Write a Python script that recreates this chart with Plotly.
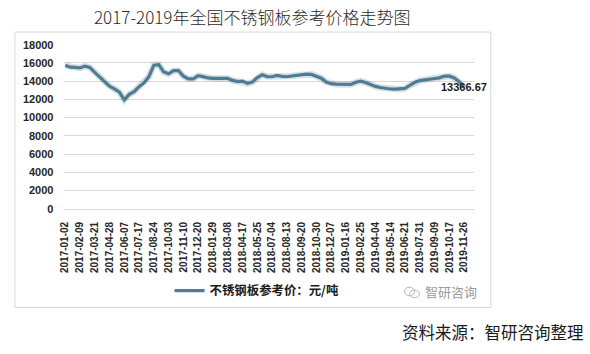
import plotly.graph_objects as go

title_text = "2017-2019年全国不锈钢板参考价格走势图"
series_name = "不锈钢板参考价：元/吨"
source_text = "资料来源：智研咨询整理"
watermark_text = "智研咨询"

tick_labels = [
    "2017-01-02", "2017-02-09", "2017-03-21", "2017-04-28", "2017-06-07",
    "2017-07-17", "2017-08-24", "2017-10-03", "2017-11-10", "2017-12-20",
    "2018-01-29", "2018-03-08", "2018-04-17", "2018-05-25", "2018-07-04",
    "2018-08-13", "2018-09-20", "2018-10-30", "2018-12-07", "2019-01-16",
    "2019-02-25", "2019-04-04", "2019-05-14", "2019-06-21", "2019-07-31",
    "2019-09-09", "2019-10-17", "2019-11-26",
]

# price samples (3 samples per labelled interval)
prices = [
    15750, 15530, 15500, 15450, 15650, 15500, 14950, 14450, 13900, 13450,
    13150, 12800, 11950, 12550, 12850, 13400, 13800, 14500, 15750, 15800,
    15000, 14800, 15150, 15150, 14550, 14250, 14250, 14600, 14500, 14350,
    14300, 14300, 14380, 14300, 14080, 13950, 14000, 13750, 13900, 14400,
    14700, 14500, 14480, 14620, 14520, 14480, 14560, 14640, 14720, 14760,
    14740, 14560, 14330, 13900, 13720, 13670, 13640, 13590, 13640, 13880,
    14000, 13850, 13600, 13420, 13300, 13190, 13140, 13130, 13130, 13200,
    13550, 13870, 14060, 14160, 14250, 14290, 14360, 14560, 14550, 14350,
    13950, 13366.67,
]

y_ticks = list(range(0, 18001, 2000))
y_tick_text = [str(v) for v in y_ticks]

W, H = 590, 354
x_idx = list(range(len(prices)))
tickvals = x_idx[::3]

line_color = "#4C7D97"
grid_color = "#D9D9D9"
label_font = "Liberation Sans, Arial, sans-serif"
cjk_font = "Noto Sans CJK SC, sans-serif"

x_range = [-0.14, 83.0]
y_range = [0, 18000]
x_dom = [60 / W, 473 / W]
y_dom = [(H - 210) / H, (H - 40) / H]

fig = go.Figure()

# soft glow / shadow around the line
fig.add_trace(go.Scatter(
    x=x_idx, y=prices, mode="lines",
    line=dict(color="rgba(95,110,120,0.22)", width=6.5),
    hoverinfo="skip", showlegend=False,
))
# main line
fig.add_trace(go.Scatter(
    x=x_idx, y=prices, mode="lines",
    name=series_name, line=dict(color=line_color, width=3.2),
    showlegend=True,
))

fig.update_layout(
    width=W, height=H,
    margin=dict(l=0, r=0, t=0, b=0),
    paper_bgcolor="white", plot_bgcolor="white",
    xaxis=dict(
        domain=x_dom, range=x_range, tickmode="array",
        tickvals=tickvals, ticktext=tick_labels, tickangle=-90,
        tickfont=dict(family=label_font, size=10, color="#262626", weight="bold"),
        showgrid=False, zeroline=False, showline=True, linecolor=grid_color,
        ticks="", ticklabelstandoff=8,
    ),
    yaxis=dict(
        domain=y_dom, range=y_range, tickmode="array",
        tickvals=y_ticks, ticktext=y_tick_text,
        tickfont=dict(family=label_font, size=11, color="#262626", weight="bold"),
        showgrid=True, gridcolor=grid_color, gridwidth=1,
        zeroline=False, showline=False, ticks="", ticklabelstandoff=10,
    ),
    legend=dict(
        x=166 / W, y=(H - 295) / H, xanchor="left", yanchor="middle",
        bgcolor="rgba(0,0,0,0)", borderwidth=0,
        font=dict(family=cjk_font, size=12.4, color="#1a1a1a", weight="bold"),
        itemwidth=30,
    ),
    showlegend=True,
)

# outer chart frame
fig.add_shape(type="rect", xref="paper", yref="paper",
              x0=10 / W, x1=490 / W, y0=(H - 312) / H, y1=(H - 27) / H,
              line=dict(color=grid_color, width=1), fillcolor="rgba(0,0,0,0)",
              layer="below")

# watermark icon (two small bubbles)
fig.add_shape(type="circle", xref="paper", yref="paper",
              x0=403 / W, x1=413 / W, y0=(H - 300) / H, y1=(H - 291) / H,
              line=dict(color="#b5b5b5", width=1))
fig.add_shape(type="circle", xref="paper", yref="paper",
              x0=408 / W, x1=418 / W, y0=(H - 302) / H, y1=(H - 294) / H,
              line=dict(color="#b5b5b5", width=1))

annotations = [
    dict(text=title_text, x=249 / W, y=(H - 11) / H, xref="paper", yref="paper",
         xanchor="center", yanchor="middle", showarrow=False,
         font=dict(family=cjk_font, size=17, color="#2a2a2a", weight=300)),
    dict(text=watermark_text, x=422 / W, y=(H - 295) / H, xref="paper", yref="paper",
         xanchor="left", yanchor="middle", showarrow=False,
         font=dict(family=cjk_font, size=13, color="#9a9a9a")),
    dict(text=source_text, x=586 / W, y=(H - 337) / H, xref="paper", yref="paper",
         xanchor="right", yanchor="middle", showarrow=False,
         font=dict(family=cjk_font, size=16.5, color="#1a1a1a")),
    dict(text=f"{prices[-1]:.2f}", x=x_idx[-1], y=prices[-1], xref="x", yref="y",
         xanchor="center", yanchor="middle", showarrow=False,
         font=dict(family=label_font, size=11, color="#1a1a1a", weight="bold")),
]
fig.update_layout(annotations=annotations)

fig.write_html("out.html")
